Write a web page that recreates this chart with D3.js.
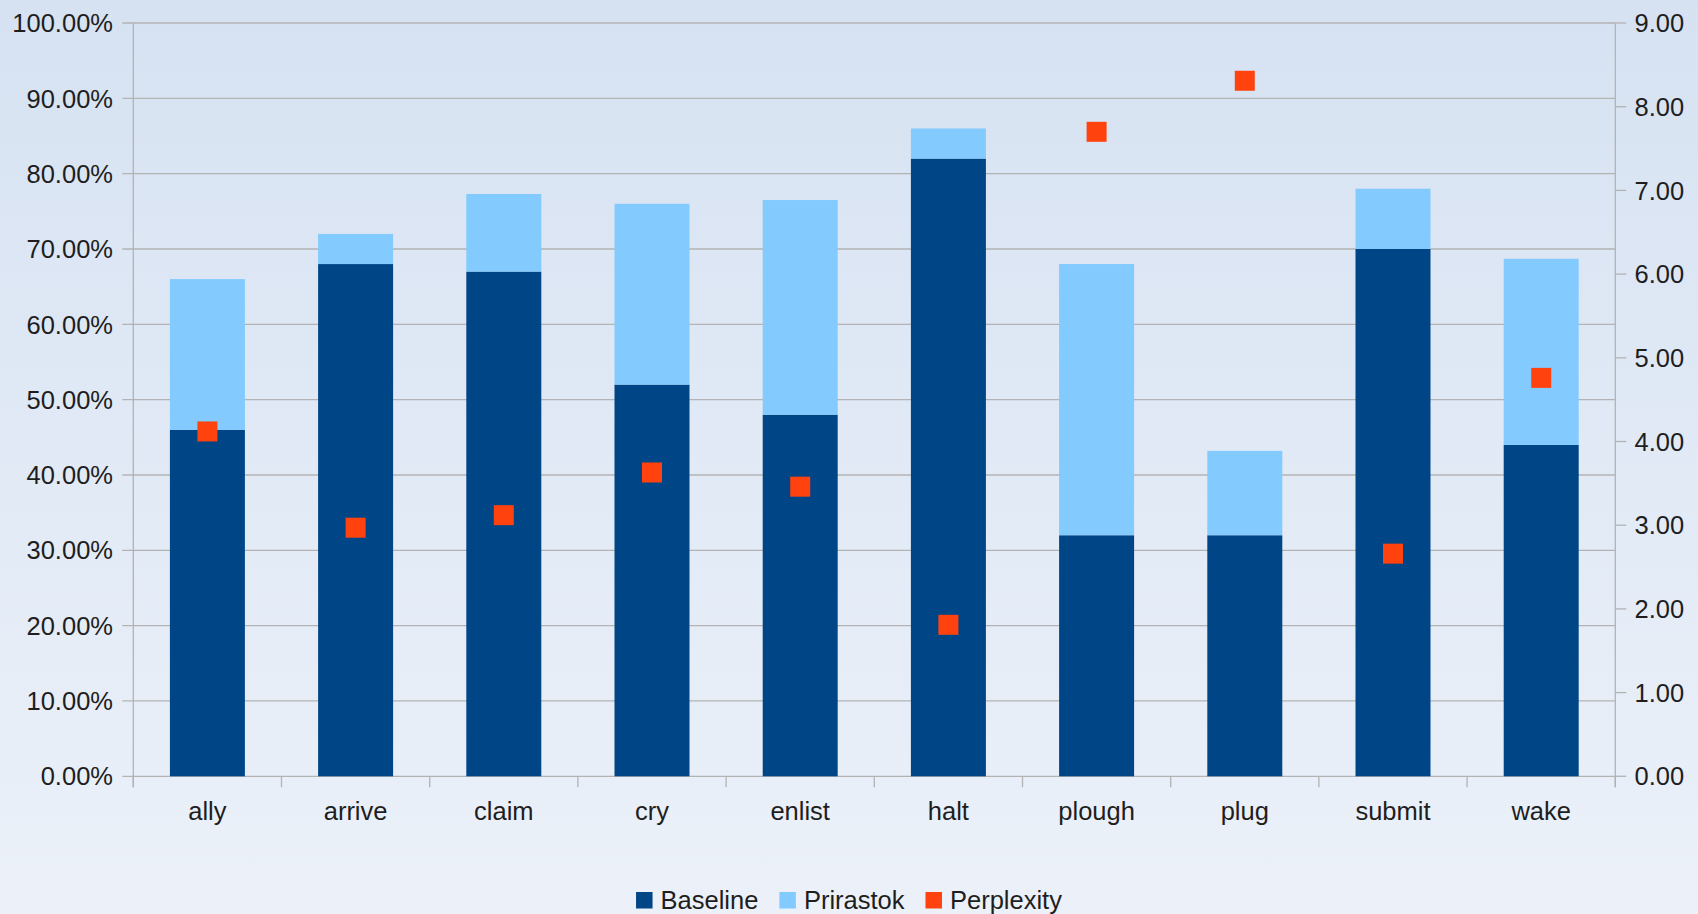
<!DOCTYPE html>
<html>
<head>
<meta charset="utf-8">
<script src="https://cdn.jsdelivr.net/npm/d3@7"></script>
<style>
  html, body { margin: 0; padding: 0; }
  body { width: 1698px; height: 914px; overflow: hidden; }
  svg { display: block; font-family: "Liberation Sans", Arial, sans-serif; }
</style>
</head>
<body>
<svg id="chart" width="1698" height="914"></svg>
<script>
// Verbs and their scores
const categories = ["ally", "arrive", "claim", "cry", "enlist", "halt", "plough", "plug", "submit", "wake"];
const baseline   = [46, 68, 67, 52, 48, 82, 32, 32, 70, 44];          // %
const prirastok  = [20, 4, 10.3, 24, 28.5, 4, 36, 11.2, 8, 24.7];     // % increment stacked on baseline
const perplexity = [4.12, 2.97, 3.12, 3.63, 3.46, 1.81, 7.70, 8.31, 2.66, 4.76];
const leftTicks  = [0, 10, 20, 30, 40, 50, 60, 70, 80, 90, 100];
const rightTicks = [0, 1, 2, 3, 4, 5, 6, 7, 8, 9];
const seriesNames = ["Baseline", "Prirastok", "Perplexity"];
const seriesColors = ["#004586", "#83caff", "#ff420e"];

const W = 1698, H = 914;
const plot = { left: 133.3, right: 1615.3, top: 23, bottom: 776.3 };
const textColor = "#1e1e1e";
const gridColor = "#b3b3b3";
const fontSize = 25.5;

const svg = d3.select("#chart");

// background gradient
const defs = svg.append("defs");
const grad = defs.append("linearGradient").attr("id", "bg").attr("x1", 0).attr("y1", 0).attr("x2", 0).attr("y2", 1);
grad.append("stop").attr("offset", "0%").attr("stop-color", "#d6e2f2");
grad.append("stop").attr("offset", "100%").attr("stop-color", "#ecf1f9");
svg.append("rect").attr("width", W).attr("height", H).attr("fill", "url(#bg)");

// scales
const x = d3.scaleBand().domain(categories).range([plot.left, plot.right])
  .paddingInner(0.494).paddingOuter(0.247);
const xCell = d3.scaleBand().domain(categories).range([plot.left, plot.right]).padding(0);
const yL = d3.scaleLinear().domain([0, 100]).range([plot.bottom, plot.top]);
const yR = d3.scaleLinear().domain([0, 9]).range([plot.bottom, plot.top]);

// horizontal gridlines (with left ticks)
svg.append("g").selectAll("line").data(leftTicks).join("line")
  .attr("x1", plot.left - 11).attr("x2", plot.right)
  .attr("y1", d => yL(d)).attr("y2", d => yL(d))
  .attr("stroke", gridColor).attr("stroke-width", 1.3);

// right axis ticks
svg.append("g").selectAll("line").data(rightTicks).join("line")
  .attr("x1", plot.right).attr("x2", plot.right + 11)
  .attr("y1", d => yR(d)).attr("y2", d => yR(d))
  .attr("stroke", gridColor).attr("stroke-width", 1.3);

// stacked bars
const stacked = categories.map((c, i) => ({ c, b: baseline[i], p: prirastok[i] }));
const bars = svg.append("g");
bars.selectAll("rect.base").data(stacked).join("rect").attr("class", "base")
  .attr("x", d => x(d.c)).attr("width", x.bandwidth())
  .attr("y", d => yL(d.b)).attr("height", d => yL(0) - yL(d.b))
  .attr("fill", seriesColors[0]);
bars.selectAll("rect.inc").data(stacked).join("rect").attr("class", "inc")
  .attr("x", d => x(d.c)).attr("width", x.bandwidth())
  .attr("y", d => yL(d.b + d.p)).attr("height", d => yL(d.b) - yL(d.b + d.p))
  .attr("fill", seriesColors[1]);

// axis lines
svg.append("line").attr("x1", plot.left).attr("x2", plot.left)
  .attr("y1", plot.top).attr("y2", plot.bottom + 11).attr("stroke", gridColor).attr("stroke-width", 1.3);
svg.append("line").attr("x1", plot.right).attr("x2", plot.right)
  .attr("y1", plot.top).attr("y2", plot.bottom + 11).attr("stroke", gridColor).attr("stroke-width", 1.3);

// category boundary ticks
const bounds = categories.map(c => xCell(c)).concat([plot.right]);
svg.append("g").selectAll("line").data(bounds).join("line")
  .attr("x1", d => d).attr("x2", d => d)
  .attr("y1", plot.bottom).attr("y2", plot.bottom + 11)
  .attr("stroke", gridColor).attr("stroke-width", 1.3);

// perplexity markers
const mk = 20;
svg.append("g").selectAll("rect").data(categories).join("rect")
  .attr("x", (c) => x(c) + x.bandwidth() / 2 - mk / 2)
  .attr("y", (c, i) => yR(perplexity[i]) - mk / 2)
  .attr("width", mk).attr("height", mk)
  .attr("fill", seriesColors[2]);

// axis labels
const fmtPct = d => d3.format(".2f")(d) + "%";
const fmtNum = d3.format(".2f");
svg.append("g").selectAll("text").data(leftTicks).join("text")
  .attr("x", 113).attr("y", d => yL(d)).attr("dy", "0.36em")
  .attr("text-anchor", "end").attr("font-size", fontSize).attr("fill", textColor)
  .text(fmtPct);
svg.append("g").selectAll("text").data(rightTicks).join("text")
  .attr("x", 1634.5).attr("y", d => yR(d)).attr("dy", "0.36em")
  .attr("text-anchor", "start").attr("font-size", fontSize).attr("fill", textColor)
  .text(fmtNum);
svg.append("g").selectAll("text").data(categories).join("text")
  .attr("x", c => x(c) + x.bandwidth() / 2).attr("y", 819.5)
  .attr("text-anchor", "middle").attr("font-size", fontSize).attr("fill", textColor)
  .text(c => c);

// legend, centred horizontally
const legend = svg.append("g");
const sq = 16.5, gapText = 8, gapItem = 21;
const items = seriesNames.map((name, i) => {
  const g = legend.append("g");
  g.append("rect").attr("width", sq).attr("height", sq).attr("y", 892).attr("fill", seriesColors[i]);
  const t = g.append("text").attr("x", sq + gapText).attr("y", 908.5)
    .attr("font-size", fontSize).attr("fill", textColor).text(name);
  return { g, w: sq + gapText + t.node().getComputedTextLength() };
});
const total = d3.sum(items, d => d.w) + gapItem * (items.length - 1);
let cx = W / 2 - total / 2;
items.forEach(it => { it.g.attr("transform", `translate(${cx},0)`); cx += it.w + gapItem; });
</script>
</body>
</html>
